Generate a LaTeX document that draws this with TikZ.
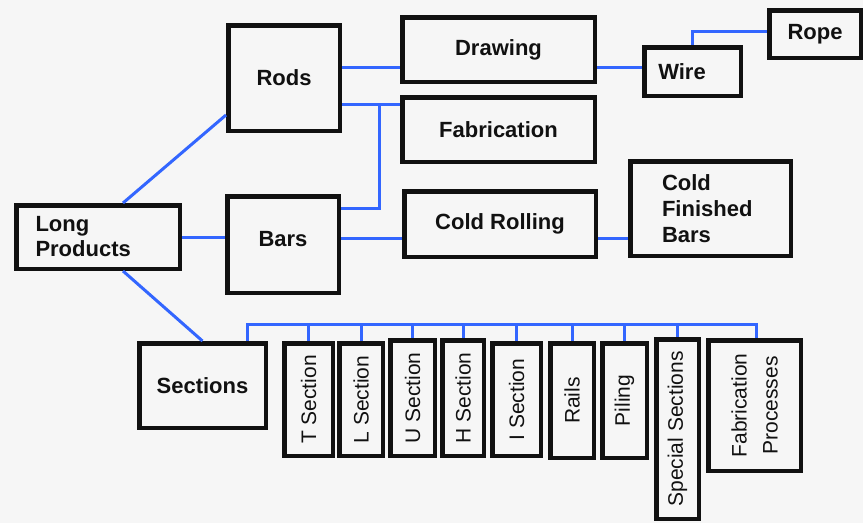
\documentclass[tikz,border=0pt]{standalone}
\usepackage{fontspec}
\setmainfont{Liberation Sans}
\definecolor{linkblue}{HTML}{3366FF}
\definecolor{paper}{HTML}{F6F6F6}
\definecolor{ink}{HTML}{111111}

\begin{document}
\begin{tikzpicture}[x=1pt,y=-1pt,
  pbox/.style={draw=ink,line width=4.5pt,inner sep=0pt,text=ink,
    font=\fontsize{22}{25}\selectfont\bfseries},
  vbox/.style={draw=ink,line width=4.5pt,inner sep=0pt,text=ink,rotate=90,
    align=center,font=\fontsize{21}{31}\selectfont},
  conn/.style={linkblue,line width=3pt}]
  \fill[paper] (0,0) rectangle (863,523);
  \node[pbox,minimum width=163.5pt,minimum height=63.5pt,text width=125pt,
        align=left] (lp) at (98,237) {Long\\Products};
  \node[pbox,minimum width=111.5pt,minimum height=105.5pt] (rods) at (284,78) {Rods};
  \node[pbox,minimum width=111.5pt,minimum height=96.5pt,text depth=12pt] (bars) at (283,244.5) {Bars};
  \node[pbox,minimum width=192.5pt,minimum height=64.5pt] (draw) at (498.5,49.5) {Drawing};
  \node[pbox,minimum width=192.5pt,minimum height=64.5pt] (fab) at (498.5,129.5) {Fabrication};
  \node[pbox,minimum width=191.5pt,minimum height=65.5pt] (roll) at (500,224) {Cold Rolling};
  \node[pbox,minimum width=96.5pt,minimum height=48.5pt,text width=68.5pt,
        align=left] (wire) at (692.5,71.5) {Wire};
  \node[pbox,minimum width=91.5pt,minimum height=47.5pt] (rope) at (815,34) {Rope};
  \node[pbox,minimum width=160.5pt,minimum height=94.5pt,text width=97pt,align=left,
        font=\fontsize{22}{26}\selectfont\bfseries] (cfb) at (710.5,208.5) {Cold\\Finished\\Bars};
  \node[pbox,minimum width=126.5pt,minimum height=84.5pt] (sec) at (202.5,385.5) {Sections};
  % section types, text runs upwards
  \node[vbox,minimum width=112.5pt,minimum height=48.5pt] (tsec) at (308.5,399.5) {T Section};
  \node[vbox,minimum width=112.5pt,minimum height=43.5pt] (lsec) at (361,399.5) {L Section};
  \node[vbox,minimum width=115.5pt,minimum height=44.5pt] (usec) at (412.5,398) {U Section};
  \node[vbox,minimum width=115.5pt,minimum height=41.5pt] (hsec) at (463,398) {H Section};
  \node[vbox,minimum width=112.5pt,minimum height=48.5pt] (isec) at (516.5,399.5) {I Section};
  \node[vbox,minimum width=114.5pt,minimum height=43.5pt] (rails) at (572,400.5) {Rails};
  \node[vbox,minimum width=114.5pt,minimum height=44.5pt] (piling) at (624.5,400.5) {Piling};
  \node[vbox,minimum width=179.5pt,minimum height=42.5pt] (spec) at (677.5,429) {Special Sections};
  \node[vbox,minimum width=130.5pt,minimum height=92.5pt] (fproc) at (754.5,405.5) {Fabrication\\Processes};
  \coordinate (jn) at (379,104);
  \coordinate (busL) at (247,324);
  \coordinate (busR) at (756,324);
  \draw[conn] ([xshift=25pt]lp.north) -- ([yshift=18pt]rods.south west);
  \draw[conn] (lp.east) -- (lp.east -| bars.west);
  \draw[conn] ([xshift=25pt]lp.south) -- (sec.north);
  \draw[conn] (rods.east |- 0,67) -- (draw.west |- 0,67);
  \draw[conn] (rods.east |- jn) -- (fab.west |- jn);
  \draw[conn] (bars.east |- 0,208) -| (jn);
  \draw[conn] (bars.east |- 0,238) -- (roll.west |- 0,238);
  \draw[conn] (draw.east |- 0,67) -- (wire.west |- 0,67);
  \draw[conn] (wire.north) |- (rope.west |- 0,31);
  \draw[conn] (roll.east |- 0,238) -- (cfb.west |- 0,238);
  % bus over the sections
  \draw[conn] (busL |- sec.north) -- (busL) -- (busR) -- (busR |- fproc.north east);
  \draw[conn] (tsec |- busL) -- (tsec) (lsec |- busL) -- (lsec)
    (usec |- busL) -- (usec) (hsec |- busL) -- (hsec)
    (isec |- busL) -- (isec) (rails |- busL) -- (rails)
    (piling |- busL) -- (piling) (spec |- busL) -- (spec);
\end{tikzpicture}
\end{document}
